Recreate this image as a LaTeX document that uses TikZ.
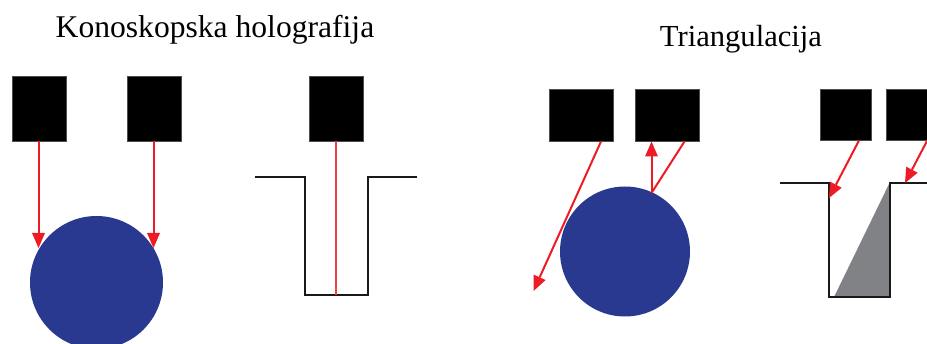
\documentclass[tikz,border=0pt]{standalone}
\usepackage{fontspec}
\setmainfont{Liberation Serif}
\usetikzlibrary{arrows.meta}
\definecolor{ballblue}{RGB}{41,57,144}
\definecolor{rayred}{RGB}{237,28,36}
\definecolor{wedgegrey}{RGB}{128,130,133}
\tikzset{
  sensor/.style={draw=black!70,line width=0.3pt,fill=black,inner sep=0,outer sep=0,anchor=north west},
  ball/.style={circle,fill=ballblue,inner sep=0,outer sep=0},
  ray/.style={draw=rayred,line width=2pt},
  rayhead/.style={ray,-{Triangle[length=15pt,width=13pt,fill=rayred,line width=0pt]}},
  profile/.style={draw=black!90,line width=2pt,line join=miter},
  heading/.style={anchor=base,inner sep=0}
}
\begin{document}
\begin{tikzpicture}[x=1pt,y=-1pt]
\useasboundingbox (0,0) rectangle (927,344);
\begin{scope}
\clip (0,0) rectangle (927,344);
% titles
\node[heading,font=\fontsize{31.6}{36}\selectfont] (t1) at (215,38) {Konoskopska holografija};
\node[heading,font=\fontsize{30.6}{36}\selectfont] (t2) at (741,46.5) {Triangulacija};
% left group
\node[sensor,minimum width=54pt,minimum height=65pt] (a1) at (12,76) {};
\node[sensor,minimum width=54pt,minimum height=65pt] (a2) at (127,76) {};
\node[sensor,minimum width=54pt,minimum height=65pt] (a3) at (309,76) {};
\node[ball,minimum size=133pt] (b1) at (96.5,282.5) {};
\coordinate (p1) at (38.5,248);
\coordinate (p2) at (153.5,248);
\draw[rayhead] (p1 |- a1.south) -- (p1);
\draw[rayhead] (p2 |- a2.south) -- (p2);
\coordinate (q0) at (255,177.5);
\coordinate (q1) at (305,177.5);
\coordinate (q2) at (305,295);
\coordinate (q3) at (367.5,295);
\coordinate (q4) at (367.5,177.5);
\coordinate (q5) at (417,177.5);
\draw[profile] (q0) -- (q1) -- (q2) -- (q3) -- (q4) -- (q5);
\coordinate (q6) at (336,295);
\draw[ray,line width=1.6pt,draw=rayred!85] (q6 |- a3.south) -- (q6);
% right group
\node[sensor,minimum width=63.5pt,minimum height=52pt] (c1) at (549.5,89.5) {};
\node[sensor,minimum width=64pt,minimum height=52pt] (c2) at (635.5,89.5) {};
\node[ball,minimum size=130pt] (b2) at (625,251.5) {};
\coordinate (r1) at (601,141.5);
\coordinate (r2) at (533.5,291);
\draw[rayhead] (r1) -- (r2);
\coordinate (r3) at (684.5,141.5);
\coordinate (r4) at (651.5,193);
\coordinate (r5) at (651.5,141.5);
\draw[ray] (r3) -- (r4);
\draw[rayhead] (r4) -- (r5);
\node[sensor,minimum width=51.5pt,minimum height=51pt] (c3) at (820,89.5) {};
\node[sensor,minimum width=60pt,minimum height=51pt] (c4) at (886.5,89.5) {};
\coordinate (s0) at (779.5,183);
\coordinate (s1) at (828.5,183);
\coordinate (s2) at (828.5,297);
\coordinate (s3) at (889.5,297);
\coordinate (s4) at (889.5,183);
\coordinate (s5) at (930,183);
\coordinate (s6) at (834,297);
\fill[wedgegrey] (s4) -- (s3) -- (s6) -- cycle;
\draw[profile] (s0) -- (s1) -- (s2) -- (s3) -- (s4) -- (s5);
\coordinate (u1) at (859,140.5);
\coordinate (u2) at (829,198);
\coordinate (u3) at (927,141);
\coordinate (u4) at (905,183);
\draw[rayhead] (u1) -- (u2);
\draw[rayhead] (u3) -- (u4);
\end{scope}
\end{tikzpicture}
\end{document}
